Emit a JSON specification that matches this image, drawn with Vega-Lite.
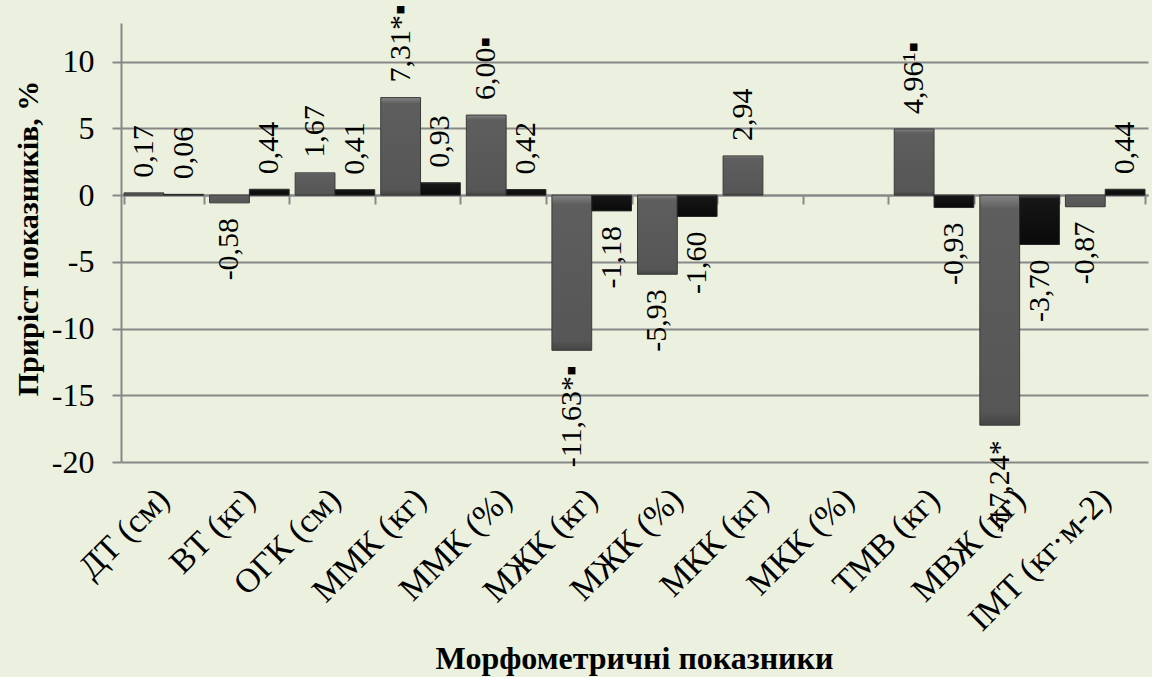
{
  "$schema": "https://vega.github.io/schema/vega-lite/v6.json",
  "width": 1027,
  "height": 439,
  "autosize": {"type": "none"},
  "padding": {"left": 121, "top": 23, "right": 4, "bottom": 215},
  "background": "#EBF1DE",
  "config": {
    "view": {"stroke": null},
    "font": "Times New Roman, Liberation Serif, serif",
    "axis": {"labelFont": "Times New Roman, Liberation Serif, serif", "titleFont": "Times New Roman, Liberation Serif, serif"},
    "text": {"font": "Times New Roman, Liberation Serif, serif"}
  },
  "data": {
    "values": [
      {"cat": "ДТ (см)", "grp": "A", "value": 0.17, "label": "0,17"},
      {"cat": "ДТ (см)", "grp": "B", "value": 0.06, "label": "0,06"},
      {"cat": "ВТ (кг)", "grp": "A", "value": -0.58, "label": "-0,58"},
      {"cat": "ВТ (кг)", "grp": "B", "value": 0.44, "label": "0,44"},
      {"cat": "ОГК (см)", "grp": "A", "value": 1.67, "label": "1,67"},
      {"cat": "ОГК (см)", "grp": "B", "value": 0.41, "label": "0,41"},
      {"cat": "ММК (кг)", "grp": "A", "value": 7.31, "label": "7,31*▪"},
      {"cat": "ММК (кг)", "grp": "B", "value": 0.93, "label": "0,93"},
      {"cat": "ММК (%)", "grp": "A", "value": 6.0, "label": "6,00▪"},
      {"cat": "ММК (%)", "grp": "B", "value": 0.42, "label": "0,42"},
      {"cat": "МЖК (кг)", "grp": "A", "value": -11.63, "label": "-11,63*▪"},
      {"cat": "МЖК (кг)", "grp": "B", "value": -1.18, "label": "-1,18"},
      {"cat": "МЖК (%)", "grp": "A", "value": -5.93, "label": "-5,93"},
      {"cat": "МЖК (%)", "grp": "B", "value": -1.6, "label": "-1,60"},
      {"cat": "МКК (кг)", "grp": "A", "value": 2.94, "label": "2,94"},
      {"cat": "ТМВ (кг)", "grp": "A", "value": 4.96, "label": "4,96¹▪"},
      {"cat": "ТМВ (кг)", "grp": "B", "value": -0.93, "label": "-0,93"},
      {"cat": "МВЖ (кг)", "grp": "A", "value": -17.24, "label": "-17,24*"},
      {"cat": "МВЖ (кг)", "grp": "B", "value": -3.7, "label": "-3,70"},
      {"cat": "ІМТ (кг·м-2)", "grp": "A", "value": -0.87, "label": "-0,87"},
      {"cat": "ІМТ (кг·м-2)", "grp": "B", "value": 0.44, "label": "0,44"}
    ]
  },
  "encoding": {
    "x": {
      "field": "cat",
      "type": "nominal",
      "sort": null,
      "scale": {
        "domain": ["ДТ (см)", "ВТ (кг)", "ОГК (см)", "ММК (кг)", "ММК (%)", "МЖК (кг)", "МЖК (%)", "МКК (кг)", "МКК (%)", "ТМВ (кг)", "МВЖ (кг)", "ІМТ (кг·м-2)"],
        "paddingInner": 0.07,
        "paddingOuter": 0.035
      },
      "axis": {
        "orient": "bottom",
        "offset": -267,
        "domainColor": "#888888",
        "domainWidth": 2,
        "ticks": true,
        "tickBand": "extent",
        "tickSize": 9,
        "tickColor": "#888888",
        "tickWidth": 2,
        "labelAngle": -45,
        "labelAlign": "right",
        "labelBaseline": "middle",
        "labelFontSize": 34,
        "labelColor": "#000000",
        "labelPadding": 290,
        "labelOverlap": false,
        "labelLimit": 400,
        "title": "Морфометричні показники",
        "titleFontSize": 32,
        "titleFontWeight": "bold",
        "titleColor": "#000000",
        "titleX": 513,
        "titleY": 473,
        "titleBaseline": "alphabetic",
        "titleAlign": "center",
        "grid": false
      }
    },
    "xOffset": {"field": "grp", "type": "nominal", "scale": {"domain": ["A", "B"], "paddingInner": 0, "paddingOuter": 0}},
    "y": {
      "field": "value",
      "type": "quantitative",
      "scale": {"domain": [-20, 12.9], "nice": false, "zero": false},
      "axis": {
        "values": [-20, -15, -10, -5, 0, 5, 10],
        "labelExpr": "'' + datum.value",
        "grid": true,
        "gridColor": "#888888",
        "gridWidth": 2,
        "domainColor": "#888888",
        "domainWidth": 2,
        "tickColor": "#888888",
        "tickWidth": 2,
        "tickSize": 9,
        "labelFontSize": 32,
        "labelColor": "#000000",
        "labelPadding": 18,
        "title": "Приріст показників, %",
        "titleFontSize": 30,
        "titleFontWeight": "bold",
        "titleColor": "#000000",
        "titleX": -78,
        "titleY": 215,
        "titleAngle": -90,
        "titleBaseline": "bottom",
        "titleAlign": "center"
      }
    }
  },
  "layer": [
    {
      "transform": [{"filter": "datum.grp === 'A'"}],
      "mark": {
        "type": "bar",
        "stroke": "#3a3a3a",
        "strokeWidth": 1,
        "color": {
          "gradient": "linear", "x1": 0, "y1": 0, "x2": 0, "y2": 1,
          "stops": [
            {"offset": 0, "color": "#858585"},
            {"offset": 0.06, "color": "#5e5e5e"},
            {"offset": 0.94, "color": "#565656"},
            {"offset": 1, "color": "#444444"}
          ]
        }
      }
    },
    {
      "transform": [{"filter": "datum.grp === 'B'"}],
      "mark": {
        "type": "bar",
        "stroke": "#2a2a2a",
        "strokeWidth": 1,
        "color": {
          "gradient": "linear", "x1": 0, "y1": 0, "x2": 0, "y2": 1,
          "stops": [
            {"offset": 0, "color": "#4a4a4a"},
            {"offset": 0.08, "color": "#161616"},
            {"offset": 1, "color": "#0a0a0a"}
          ]
        }
      }
    },
    {
      "transform": [{"filter": "datum.value >= 0"}],
      "mark": {"type": "text", "angle": -90, "align": "left", "baseline": "middle", "dx": 15, "fontSize": 30, "color": "#000000"},
      "encoding": {"text": {"field": "label"}}
    },
    {
      "transform": [{"filter": "datum.value < 0"}],
      "mark": {"type": "text", "angle": -90, "align": "right", "baseline": "middle", "dx": -15, "fontSize": 30, "color": "#000000"},
      "encoding": {"text": {"field": "label"}}
    }
  ]
}
